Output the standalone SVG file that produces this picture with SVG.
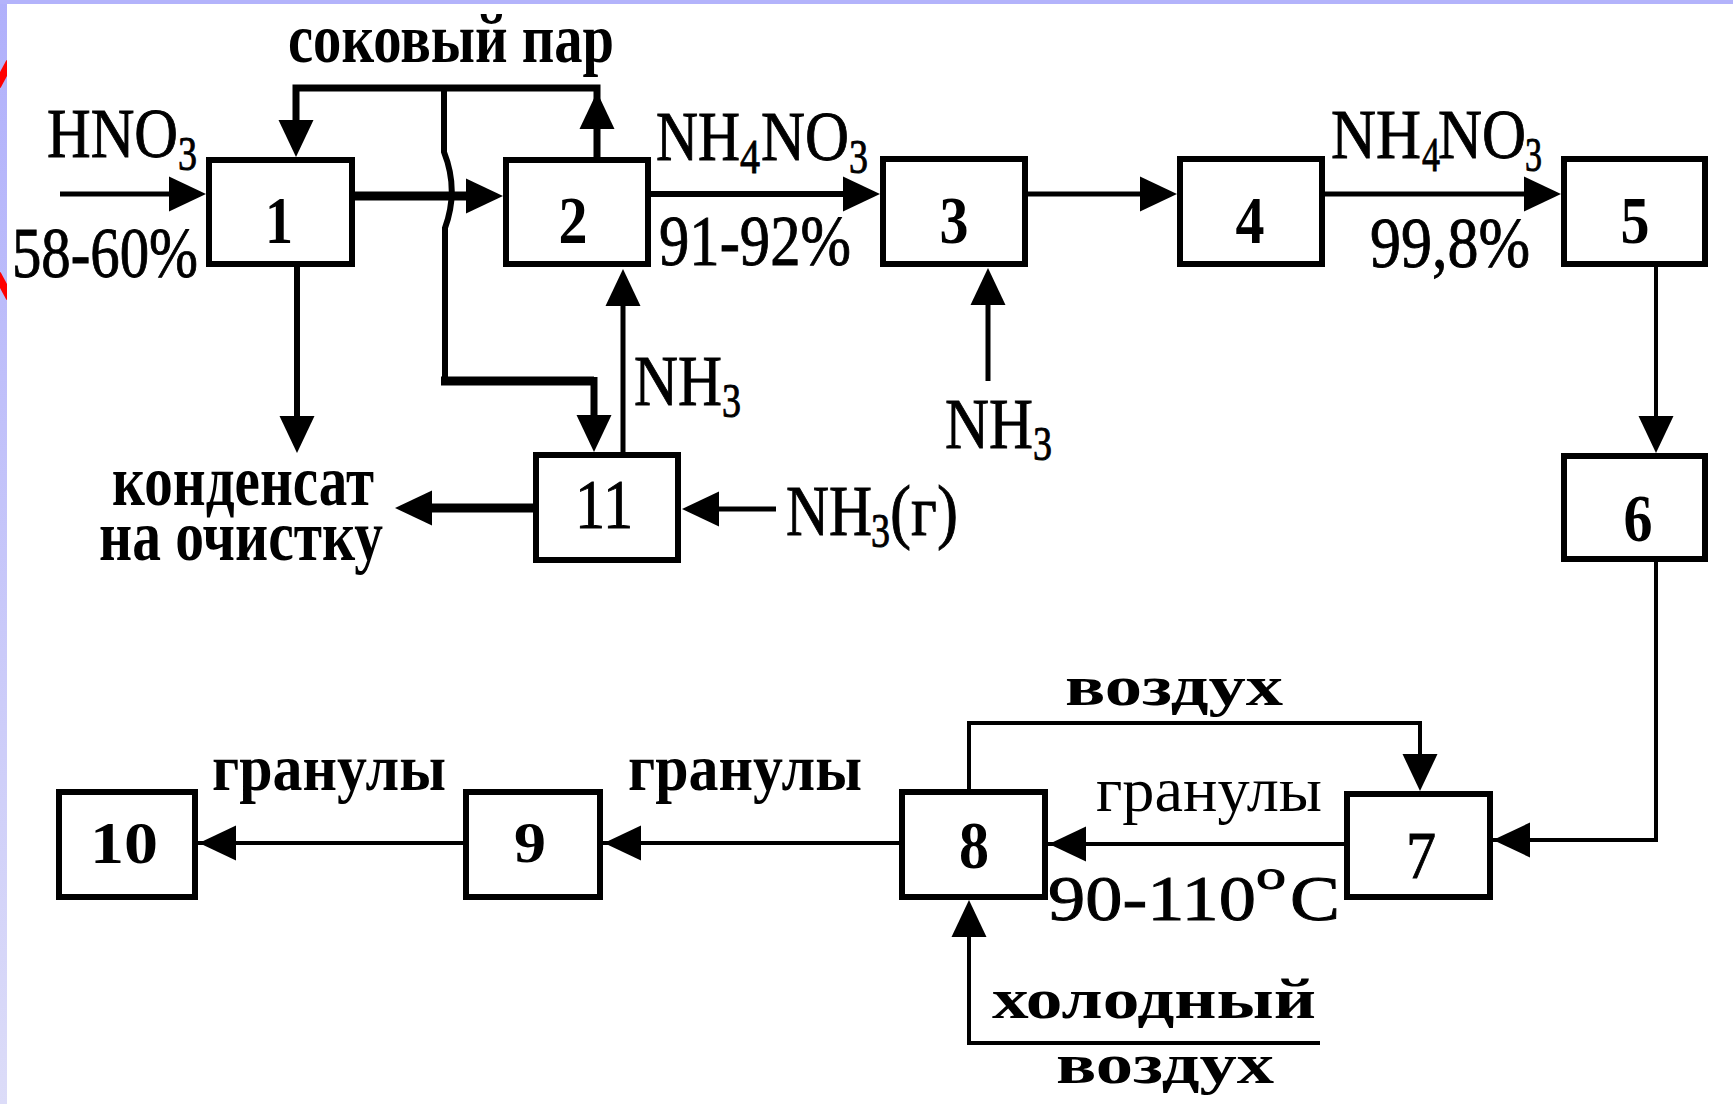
<svg xmlns="http://www.w3.org/2000/svg" width="1733" height="1104" viewBox="0 0 1733 1104">
<style>
.box{fill:#fff;stroke:#000;stroke-width:6}
.t{font-family:"Liberation Serif","Times New Roman",serif;fill:#000}
.h{stroke:#000;stroke-width:0.9}
.b{font-weight:bold}
.n{text-anchor:middle}
.ln{fill:none;stroke:#000;stroke-linejoin:miter}
.w4{stroke-width:4}.w5{stroke-width:5}.w6{stroke-width:6}.w7{stroke-width:7}.w9{stroke-width:9}
</style>
<defs>
<linearGradient id="side" x1="0" y1="0" x2="0" y2="1">
<stop offset="0" stop-color="#b0b0fb"/>
<stop offset="1" stop-color="#dcdcf8"/>
</linearGradient>
<clipPath id="strip"><rect x="0" y="0" width="7" height="1104"/></clipPath>
<path id="ah" d="M0 0 L-37 -17.5 L-37 17.5 Z" fill="#000"/>
</defs>
<g id="background">
<rect x="0" y="0" width="1733" height="1104" fill="#fff"/>
<rect x="0" y="0" width="7" height="1104" fill="url(#side)"/>
<rect x="0" y="0" width="1733" height="4" fill="#b3b3fb"/>
<g clip-path="url(#strip)" stroke="#f00" stroke-width="8">
<line x1="-3" y1="86" x2="10" y2="62"/>
<line x1="-3" y1="274" x2="10" y2="298"/>
</g>
</g>
<g id="connectors">
<path class="ln w5" d="M60 194 H176"/>
<path class="ln w9" d="M355 196 H472"/>
<path class="ln w7" d="M597 157 V88 H296 V125"/>
<path class="ln w6" d="M444 88 V152 Q459 190 445 228 V385"/>
<path class="ln w9" d="M441 381 H594"/>
<path class="ln w7" d="M594 377 V420"/>
<path class="ln w6" d="M297 267 V420"/>
<path class="ln w9" d="M533 508 H425"/>
<path class="ln w5" d="M623 452 V305"/>
<path class="ln w5" d="M776 509 H715"/>
<path class="ln w5" d="M988 381 V305"/>
<path class="ln w6" d="M651 194 H848"/>
<path class="ln w5" d="M1028 194 H1145"/>
<path class="ln w5" d="M1325 194 H1529"/>
<path class="ln w4" d="M1656 267 V420"/>
<path class="ln w4" d="M1656 562 V840 H1460"/>
<path class="ln w4" d="M1344 844 H1015"/>
<path class="ln w4" d="M969 789 V723 H1420 V760"/>
<path class="ln w4" d="M1320 1043 H969 V930"/>
<path class="ln w4" d="M899 843 H570"/>
<path class="ln w4" d="M463 843 H165"/>
<use href="#ah" transform="translate(206,194)"/>
<use href="#ah" transform="translate(503,196)"/>
<use href="#ah" transform="translate(296,157) rotate(90)"/>
<use href="#ah" transform="translate(597,92) rotate(-90)"/>
<use href="#ah" transform="translate(297,453) rotate(90)"/>
<use href="#ah" transform="translate(594,452) rotate(90)"/>
<use href="#ah" transform="translate(395,508) rotate(180)"/>
<use href="#ah" transform="translate(623,269) rotate(-90)"/>
<use href="#ah" transform="translate(682,509) rotate(180)"/>
<use href="#ah" transform="translate(988,268) rotate(-90)"/>
<use href="#ah" transform="translate(880,194)"/>
<use href="#ah" transform="translate(1177,194)"/>
<use href="#ah" transform="translate(1561,194)"/>
<use href="#ah" transform="translate(1656,453) rotate(90)"/>
<use href="#ah" transform="translate(1493,840) rotate(180)"/>
<use href="#ah" transform="translate(1049,844) rotate(180)"/>
<use href="#ah" transform="translate(1420,791) rotate(90)"/>
<use href="#ah" transform="translate(969,900) rotate(-90)"/>
<use href="#ah" transform="translate(604,843) rotate(180)"/>
<use href="#ah" transform="translate(199,843) rotate(180)"/>
</g>
<g id="node1"><rect class="box" x="209" y="160" width="143" height="104"/><text class="t b n" x="279" y="243" font-size="68" textLength="28" lengthAdjust="spacingAndGlyphs">1</text></g>
<g id="node2"><rect class="box" x="506" y="160" width="142" height="104"/><text class="t b n" x="573" y="243" font-size="68" textLength="29" lengthAdjust="spacingAndGlyphs">2</text></g>
<g id="node3"><rect class="box" x="883" y="159" width="142" height="105"/><text class="t b n" x="954" y="243" font-size="68" textLength="29" lengthAdjust="spacingAndGlyphs">3</text></g>
<g id="node4"><rect class="box" x="1180" y="159" width="142" height="105"/><text class="t b n" x="1250" y="243" font-size="68" textLength="29" lengthAdjust="spacingAndGlyphs">4</text></g>
<g id="node5"><rect class="box" x="1564" y="159" width="141" height="105"/><text class="t b n" x="1635" y="243" font-size="68" textLength="29" lengthAdjust="spacingAndGlyphs">5</text></g>
<g id="node6"><rect class="box" x="1564" y="456" width="141" height="103"/><text class="t b n" x="1638" y="541" font-size="68" textLength="29" lengthAdjust="spacingAndGlyphs">6</text></g>
<g id="node11"><rect class="box" x="536" y="455" width="142" height="105"/><text class="t h n" x="604" y="528" font-size="70" textLength="58" lengthAdjust="spacingAndGlyphs">11</text></g>
<g id="node7"><rect class="box" x="1347" y="794" width="143" height="103"/><text class="t h n" x="1421" y="878" font-size="68" textLength="30" lengthAdjust="spacingAndGlyphs">7</text></g>
<g id="node8"><rect class="box" x="902" y="792" width="143" height="105"/><text class="t b n" x="974" y="868" font-size="68" textLength="30" lengthAdjust="spacingAndGlyphs">8</text></g>
<g id="node9"><rect class="box" x="466" y="792" width="134" height="105"/><text class="t b n" x="530" y="862" font-size="56" textLength="32" lengthAdjust="spacingAndGlyphs">9</text></g>
<g id="node10"><rect class="box" x="59" y="792" width="136" height="105"/><text class="t b n" x="124" y="863" font-size="60" textLength="68" lengthAdjust="spacingAndGlyphs">10</text></g>
<g id="labels">
<text class="t b" x="288" y="62" font-size="70" textLength="326" lengthAdjust="spacingAndGlyphs">соковый пар</text>
<text class="t h" font-size="70"><tspan x="47" y="157" textLength="131" lengthAdjust="spacingAndGlyphs">HNO</tspan><tspan x="178" y="170" font-size="48" textLength="19" lengthAdjust="spacingAndGlyphs">3</tspan></text>
<text class="t h" x="12" y="277" font-size="72" textLength="186" lengthAdjust="spacingAndGlyphs">58-60%</text>
<text class="t h" font-size="70"><tspan x="656" y="160" textLength="84" lengthAdjust="spacingAndGlyphs">NH</tspan><tspan x="740" y="173" font-size="48" textLength="20" lengthAdjust="spacingAndGlyphs">4</tspan><tspan x="761" y="160" textLength="88" lengthAdjust="spacingAndGlyphs">NO</tspan><tspan x="849" y="173" font-size="48" textLength="19" lengthAdjust="spacingAndGlyphs">3</tspan></text>
<text class="t h" x="659" y="265" font-size="72" textLength="192" lengthAdjust="spacingAndGlyphs">91-92%</text>
<text class="t h" font-size="70"><tspan x="1331" y="158" textLength="90" lengthAdjust="spacingAndGlyphs">NH</tspan><tspan x="1422" y="171" font-size="48" textLength="18" lengthAdjust="spacingAndGlyphs">4</tspan><tspan x="1438" y="158" textLength="88" lengthAdjust="spacingAndGlyphs">NO</tspan><tspan x="1525" y="171" font-size="48" textLength="17" lengthAdjust="spacingAndGlyphs">3</tspan></text>
<text class="t h" x="1370" y="267" font-size="72" textLength="160" lengthAdjust="spacingAndGlyphs">99,8%</text>
<text class="t h" font-size="72"><tspan x="634" y="405" textLength="88" lengthAdjust="spacingAndGlyphs">NH</tspan><tspan x="722" y="417" font-size="48" textLength="19" lengthAdjust="spacingAndGlyphs">3</tspan></text>
<text class="t h" font-size="72"><tspan x="945" y="448" textLength="88" lengthAdjust="spacingAndGlyphs">NH</tspan><tspan x="1033" y="460" font-size="48" textLength="19" lengthAdjust="spacingAndGlyphs">3</tspan></text>
<text class="t h" font-size="72"><tspan x="786" y="535" textLength="86" lengthAdjust="spacingAndGlyphs">NH</tspan><tspan x="871" y="547" font-size="48" textLength="19" lengthAdjust="spacingAndGlyphs">3</tspan><tspan x="890" y="535" textLength="68" lengthAdjust="spacingAndGlyphs">(г)</tspan></text>
<text class="t b" x="112" y="505" font-size="72" textLength="262" lengthAdjust="spacingAndGlyphs">конденсат</text>
<text class="t b" x="99" y="560" font-size="72" textLength="284" lengthAdjust="spacingAndGlyphs">на очистку</text>
<text class="t b" x="212" y="790" font-size="65" textLength="234" lengthAdjust="spacingAndGlyphs">гранулы</text>
<text class="t b" x="628" y="790" font-size="65" textLength="234" lengthAdjust="spacingAndGlyphs">гранулы</text>
<text class="t" x="1096" y="811" font-size="64" textLength="226" lengthAdjust="spacingAndGlyphs">гранулы</text>
<text class="t b" x="1065" y="705" font-size="56" textLength="218" lengthAdjust="spacingAndGlyphs">воздух</text>
<text class="t h" font-size="64"><tspan x="1048" y="920" textLength="208" lengthAdjust="spacingAndGlyphs">90-110</tspan><tspan x="1256" y="889" font-size="40" textLength="30" lengthAdjust="spacingAndGlyphs">o</tspan><tspan x="1290" y="920" textLength="50" lengthAdjust="spacingAndGlyphs">C</tspan></text>
<text class="t b" x="992" y="1018" font-size="56" textLength="324" lengthAdjust="spacingAndGlyphs">холодный</text>
<text class="t b" x="1056" y="1083" font-size="56" textLength="218" lengthAdjust="spacingAndGlyphs">воздух</text>
</g>
</svg>
